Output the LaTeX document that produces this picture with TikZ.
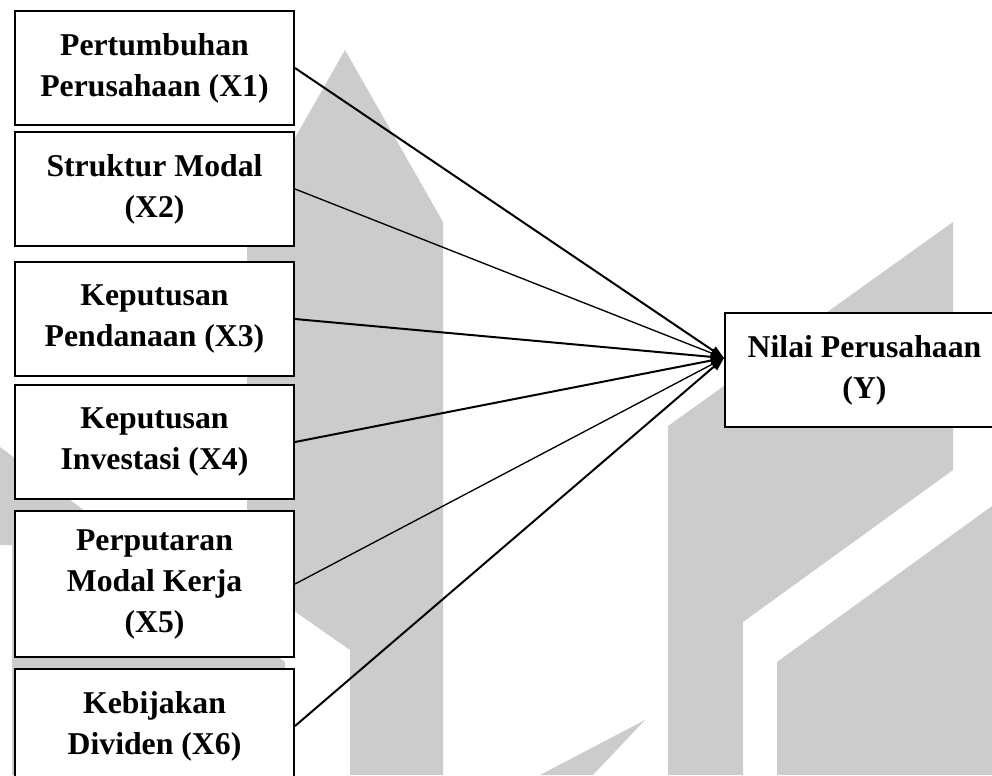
\documentclass[tikz,border=0pt]{standalone}
\usepackage{fontspec}
\setmainfont{Liberation Serif}
\usetikzlibrary{arrows.meta}

\begin{document}
\begin{tikzpicture}[
  x=0.75pt, y=-0.75pt,
  font=\bfseries\fontsize{23.8}{30.75}\selectfont,
  varbox/.style={draw, line width=1.5pt, fill=white, anchor=north west, align=center,
                 inner sep=0pt, minimum width=209.25pt, minimum height=85.5pt},
  wmark/.style={fill=gray!40},
  linkA/.style={-{Triangle[length=10pt,width=7pt]}, line width=1.5pt},
  linkB/.style={-{Triangle[length=10pt,width=7pt]}, line width=1pt},
]

\useasboundingbox (0,0) rectangle (992,775);
\clip (0,0) rectangle (992,775);

% ---------- watermark ----------
\fill[wmark] (247,222) -- (345,50) -- (443,222) -- (443,775) -- (350,775)
             -- (350,650) -- (247,578) -- cycle;
\fill[wmark] (0,447) -- (285,662) -- (285,775) -- (12,775) -- (12,545) -- (0,545) -- cycle;
\fill[wmark] (668,426) -- (953,222) -- (953,470) -- (743,622) -- (743,775) -- (668,775) -- cycle;
\fill[wmark] (777,662) -- (992,506) -- (992,775) -- (777,775) -- cycle;
\fill[wmark] (540,775) -- (645,720) -- (593,775) -- cycle;

% ---------- variables ----------
\node[varbox] (x1) at (14,10)  {Pertumbuhan\\Perusahaan (X1)};
\node[varbox] (x2) at (14,131) {Struktur Modal\\(X2)};
\node[varbox] (x3) at (14,261) {Keputusan\\Pendanaan (X3)};
\node[varbox] (x4) at (14,384) {Keputusan\\Investasi (X4)};
\node[varbox, minimum height=109.5pt] (x5) at (14,510) {Perputaran\\Modal Kerja\\(X5)};
\node[varbox] (x6) at (14,668) {Kebijakan\\Dividen (X6)};

\node[varbox] (y) at (724,312) {Nilai Perusahaan\\(Y)};

% ---------- arrows ----------
\coordinate (hub) at ([yshift=9pt]y.west);
\draw[linkA] (x1.east) -- (hub);
\draw[linkB] (x2.east) -- (hub);
\draw[linkA] (x3.east) -- (hub);
\draw[linkA] (x4.east) -- (hub);
\draw[linkB] (x5.east) -- (hub);
\draw[linkA] (x6.east) -- (hub);

\end{tikzpicture}
\end{document}
